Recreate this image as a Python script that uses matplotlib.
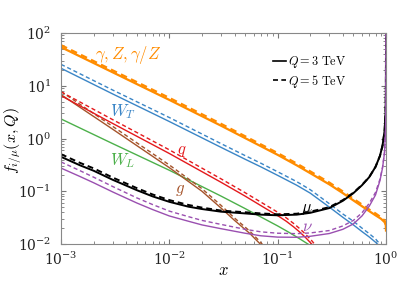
import matplotlib
matplotlib.use('Agg')
import matplotlib.pyplot as plt

plt.rcParams['mathtext.fontset'] = 'cm'
plt.rcParams['font.family'] = 'serif'
plt.rcParams['font.serif'] = ['DejaVu Serif']

# photon / Z / gamma-Z
x_gam = [1e-3, 3e-3, 1e-2, 3e-2, 0.1, 0.15, 0.2, 0.3, 0.4, 0.5, 0.6, 0.7, 0.8, 0.9,
         0.97, 0.995, 1.0]
gam_3 = [54, 18, 5.4, 1.75, 0.49, 0.31, 0.22, 0.135, 0.092, 0.067, 0.052, 0.042, 0.035,
         0.030, 0.026, 0.023, 0.018]
gam_5 = [59, 19.6, 5.9, 1.9, 0.53, 0.335, 0.238, 0.146, 0.099, 0.072, 0.056, 0.045, 0.038,
         0.032, 0.028, 0.024, 0.019]

# transverse W
x_wt = [1e-3, 3e-3, 1e-2, 3e-2, 0.05, 0.07, 0.1, 0.15, 0.2, 0.3, 0.4, 0.5, 0.6, 0.7,
        0.8, 0.87, 0.9]
wt_3 = [21.5, 7.0, 2.1, 0.68, 0.405, 0.29, 0.2, 0.13, 0.092, 0.05, 0.032, 0.023, 0.0172,
        0.0136, 0.0108, 0.0092, 0.0086]
wt_5 = [25.5, 8.3, 2.5, 0.8, 0.475, 0.34, 0.234, 0.152, 0.107, 0.058, 0.037, 0.027, 0.02,
        0.0157, 0.0125, 0.0102, 0.0092]

# longitudinal W (no Q dependence)
x_wl = [1e-3, 3e-3, 1e-2, 3e-2, 0.05, 0.07, 0.1, 0.13, 0.16, 0.19, 0.21]
wl = [2.35, 0.8, 0.25, 0.081, 0.047, 0.0325, 0.022, 0.0162, 0.0125, 0.01, 0.0088]

# quarks
x_q = [1e-3, 3e-3, 1e-2, 3e-2, 0.05, 0.085, 0.1, 0.12, 0.14, 0.16, 0.18, 0.206, 0.24]
q_3 = [6.5, 1.93, 0.52, 0.148, 0.081, 0.042, 0.0345, 0.027, 0.0212, 0.0168, 0.0134, 0.01,
       0.0068]
q_5 = [7.7, 2.28, 0.61, 0.172, 0.094, 0.049, 0.040, 0.0313, 0.0246, 0.0195, 0.0155, 0.0116,
       0.0079]

# gluon
x_g = [1e-3, 3e-3, 1e-2, 2e-2, 3e-2, 4e-2, 0.055, 0.069, 0.085]
g_3 = [6.8, 1.5, 0.28, 0.1, 0.048, 0.028, 0.016, 0.01, 0.006]
g_5 = [7.8, 1.7, 0.315, 0.112, 0.054, 0.031, 0.0177, 0.011, 0.0066]

# muon
x_mu = [1e-3, 1.5e-3, 2e-3, 3e-3, 5e-3, 7e-3, 1e-2, 1.5e-2, 2e-2, 3e-2, 5e-2, 7e-2,
        0.1, 0.15, 0.2, 0.3, 0.4, 0.5, 0.6, 0.7, 0.8, 0.88, 0.93, 0.97, 0.99,
        0.997, 0.9995, 0.99995]
mu_3 = [0.45, 0.31, 0.245, 0.165, 0.105, 0.08, 0.063, 0.051, 0.046, 0.041, 0.038, 0.036,
        0.035, 0.036, 0.039, 0.048, 0.066, 0.092, 0.13, 0.185, 0.29, 0.47, 0.75, 1.4, 3,
        8, 40, 100]
mu_5 = [0.505, 0.345, 0.272, 0.182, 0.115, 0.087, 0.068, 0.055, 0.049, 0.043, 0.04, 0.038,
        0.0365, 0.0375, 0.041, 0.05, 0.068, 0.094, 0.132, 0.186, 0.29, 0.47, 0.74, 1.35, 2.9,
        8, 40, 100]

# neutrino
x_nu = [1e-3, 1.5e-3, 2e-3, 3e-3, 5e-3, 7e-3, 1e-2, 1.5e-2, 2e-2, 3e-2, 5e-2, 7e-2,
        0.1, 0.15, 0.2, 0.3, 0.4, 0.5, 0.6, 0.7, 0.8, 0.88, 0.93, 0.97, 0.99,
        0.997, 0.9995, 0.99995]
nu_3 = [0.275, 0.19, 0.145, 0.097, 0.06, 0.045, 0.034, 0.027, 0.023, 0.0195, 0.016, 0.0143,
        0.0135, 0.0134, 0.014, 0.0158, 0.019, 0.024, 0.034, 0.052, 0.085, 0.16, 0.28, 0.55, 1.4,
        4, 25, 100]
nu_5 = [0.36, 0.245, 0.185, 0.123, 0.075, 0.056, 0.042, 0.033, 0.028, 0.0235, 0.019, 0.017,
        0.016, 0.0157, 0.0162, 0.018, 0.022, 0.028, 0.039, 0.059, 0.095, 0.17, 0.29, 0.56, 1.4,
        4, 25, 100]

c_gam = '#ff8c00'
c_wt = '#3a85c6'
c_wl = '#4cb04a'
c_q = '#e4191c'
c_g = '#a5532a'
c_mu = 'black'
c_nu = '#9a4fb0'

fig = plt.figure(figsize=(4.07, 2.82), dpi=100)
ax = fig.add_axes([0.1499, 0.1348, 0.7985, 0.748])

ax.plot(x_wl, wl, '-', color=c_wl, lw=1.0)
ax.plot(x_g, g_3, '-', color=c_g, lw=1.0)
ax.plot(x_g, g_5, '--', color=c_g, lw=1.0, dashes=(3, 2))
ax.plot(x_q, q_3, '-', color=c_q, lw=1.0)
ax.plot(x_q, q_5, '--', color=c_q, lw=1.0, dashes=(3, 2))
ax.plot(x_wt, wt_3, '-', color=c_wt, lw=1.0)
ax.plot(x_wt, wt_5, '--', color=c_wt, lw=1.0, dashes=(3, 2))
ax.plot(x_gam, gam_3, '-', color=c_gam, lw=1.6)
ax.plot(x_gam, gam_5, '--', color=c_gam, lw=1.6, dashes=(3, 2))
ax.plot(x_mu, mu_3, '-', color=c_mu, lw=1.4)
ax.plot(x_mu, mu_5, '--', color=c_mu, lw=1.4, dashes=(3, 2))
ax.plot(x_nu, nu_3, '-', color=c_nu, lw=1.0)
ax.plot(x_nu, nu_5, '--', color=c_nu, lw=1.0, dashes=(3, 2))

ax.set_xscale('log')
ax.set_yscale('log')
ax.set_xlim(1e-3, 1)
ax.set_ylim(1e-2, 1e2)

ax.text(0.0042, 39, r'$\gamma, Z, \gamma/Z$', color=c_gam, fontsize=12,
        ha='center', va='center')
ax.text(0.0037, 3.2, r'$W_T$', color=c_wt, fontsize=12, ha='center', va='center')
ax.text(0.0037, 0.38, r'$W_L$', color=c_wl, fontsize=12, ha='center', va='center')
ax.text(0.0131, 0.6, r'$q$', color=c_q, fontsize=12, ha='center', va='center')
ax.text(0.0126, 0.106, r'$g$', color=c_g, fontsize=12, ha='center', va='center')
ax.text(0.187, 0.048, r'$\mu$', color=c_mu, fontsize=12, ha='center', va='center')
ax.text(0.19, 0.021, r'$\nu$', color=c_nu, fontsize=12, ha='center', va='center')

# legend
h1, = ax.plot([], [], '-', color='black', lw=1.2)
h2, = ax.plot([], [], '--', color='black', lw=1.2, dashes=(3, 2))
ax.legend([h1, h2], [r'$Q = 3\ \mathrm{TeV}$', r'$Q = 5\ \mathrm{TeV}$'],
          loc='upper left', bbox_to_anchor=(0.652, 0.9), frameon=False,
          borderpad=0, borderaxespad=0,
          handlelength=1.1, handletextpad=0.15, labelspacing=0.2, fontsize=8.8)

ax.set_xlabel(r'$x$', fontsize=12)
ax.set_ylabel(r'$f_{i/\mu}(x, Q)$', fontsize=11.5)
ax.xaxis.set_label_coords(0.5, -0.085)
ax.yaxis.set_label_coords(-0.115, 0.49)
ax.tick_params(which='both', direction='in', top=True, right=True, colors='#777777',
               labelcolor='#222222', labelsize=10)
ax.tick_params(axis='y', which='major', pad=7)
ax.tick_params(axis='x', which='major', pad=5)
ax.tick_params(which='major', length=3.5)
ax.tick_params(which='minor', length=2)
for s in ax.spines.values():
    s.set_color('#888888')
    s.set_linewidth(0.8)

fig.savefig('out.png', dpi=100)
